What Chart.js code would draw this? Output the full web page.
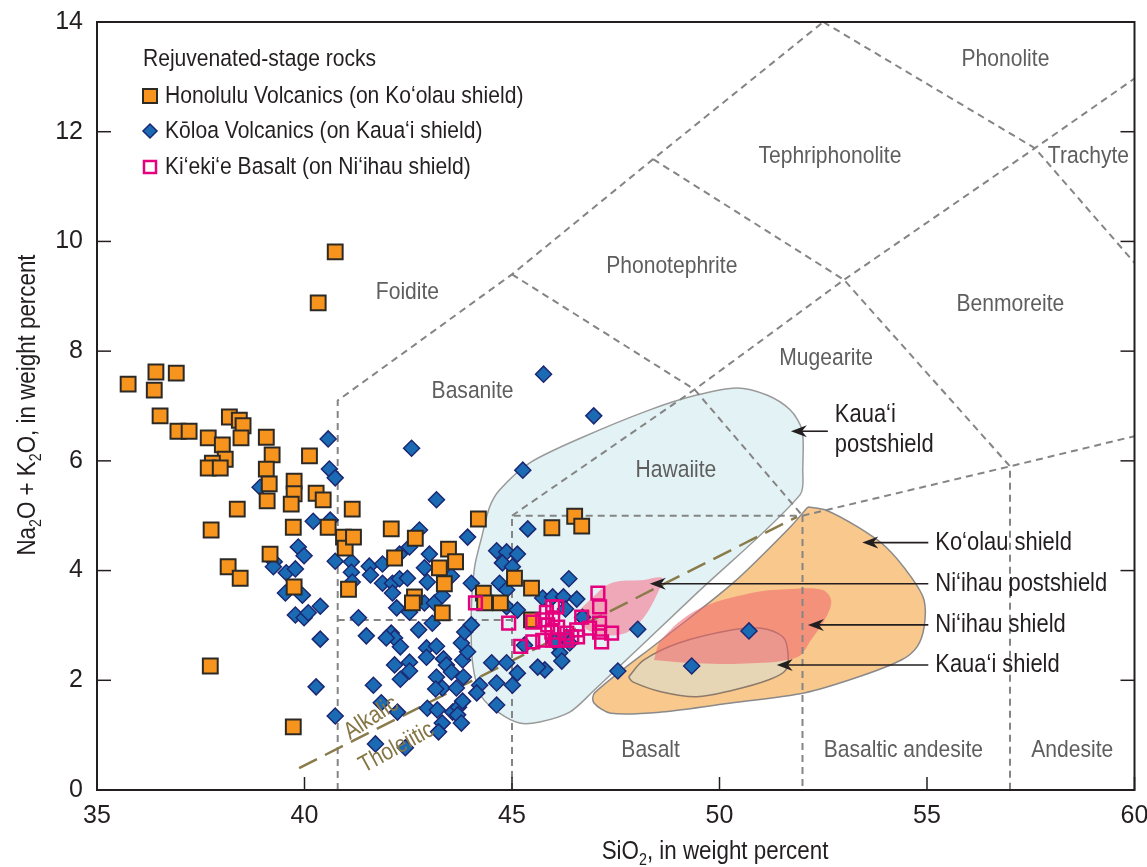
<!DOCTYPE html>
<html>
<head>
    <title>TAS diagram - rejuvenated-stage rocks</title>
    <script src="https://cdn.jsdelivr.net/npm/chart.js@4.4.0/dist/chart.umd.min.js"></script>
    <style>
        body { margin: 0; background: #fff; }
        canvas { display: block; }
    </style>
</head>
<body>
<canvas id="canvas" width="1147" height="867"></canvas>
<script>
    // Honolulu Volcanics (orange squares)
    var honoluluSiO2 = [40.74,40.33,35.75,36.42,36.91,36.38,36.52,36.95,37.22,37.68,38.02,38.19,38.43,38.52,38.47,39.08,38.09,37.78,37.68,37.97,39.22,40.12,39.08,39.15,39.75,39.75,39.68,39.10,38.38,40.28,40.45,39.73,37.75,40.57,40.94,40.98,39.17,38.16,38.45,39.75,41.06,37.73,39.73,41.15,41.18,42.09,42.67,42.17,43.47,43.64,43.25,43.37,44.19,44.31,44.34,44.72,45.06,42.65,42.60,43.32,45.96,46.51,46.68,45.47,45.47];
    var honoluluAlk  = [9.81,8.88,7.40,7.62,7.60,7.29,6.82,6.54,6.54,6.42,6.29,6.80,6.74,6.64,6.42,6.43,6.03,5.96,5.87,5.87,6.11,6.09,5.85,5.58,5.63,5.40,5.21,5.27,5.12,5.41,5.29,4.79,4.74,4.79,4.61,4.41,4.30,4.07,3.86,3.70,3.66,2.26,1.15,5.12,4.61,4.76,4.59,4.23,4.39,4.16,4.05,3.76,4.94,3.59,3.41,3.41,3.86,3.52,3.41,3.23,4.78,4.99,4.81,3.68,3.10];

    // Koloa Volcanics (blue diamonds)
    var koloaSiO2 = [40.57,40.60,40.74,38.93,40.21,40.62,39.85,39.99,40.74,39.27,39.25,39.56,39.78,39.54,39.95,40.38,39.78,39.99,40.09,40.38,40.28,40.74,
        42.58,43.18,42.77,43.93,42.53,43.01,41.13,41.56,41.88,42.29,42.89,41.13,41.59,41.88,42.12,42.29,42.48,42.96,43.54,41.15,44.02,44.63,44.87,44.77,45.01,44.70,44.87,45.13,
        42.12,41.30,41.49,42.22,42.53,42.89,43.13,43.32,43.08,42.75,42.09,42.17,41.97,42.31,42.94,43.18,42.94,42.17,42.53,42.53,42.31,43.35,43.42,43.54,43.81,43.93,43.78,43.86,44.02,
        43.83,43.18,43.32,43.66,43.16,41.66,41.85,42.24,42.96,43.20,43.57,43.71,43.81,43.69,43.78,43.32,43.23,41.71,42.43,44.22,44.15,44.51,44.63,44.63,44.87,45.01,
        45.76,46.97,45.26,45.38,46.37,45.74,45.98,46.24,46.56,46.29,46.70,44.87,45.13,48.03,47.55,46.15,46.20,45.79,45.62,45.13,46.03,46.32,46.39,45.30,50.71,49.33];
    var koloaAlk = [6.40,5.85,5.69,5.52,4.90,4.92,4.43,4.27,4.17,4.16,4.07,3.96,4.03,3.59,3.55,3.35,3.19,3.14,3.23,2.75,1.88,1.35,
        6.23,5.29,4.74,4.61,4.43,4.30,4.16,4.08,4.12,4.30,4.05,3.97,3.92,3.77,3.77,3.85,3.86,3.79,3.90,3.79,3.77,4.36,4.34,4.14,4.07,3.77,3.65,4.30,
        3.59,3.14,2.81,3.32,3.24,3.41,3.41,3.54,3.04,2.92,2.86,2.77,2.77,2.61,2.59,2.62,2.42,2.28,2.33,2.17,2.02,2.39,2.28,2.15,2.37,2.52,2.68,2.88,3.01,
        2.06,2.06,1.86,1.86,1.84,1.91,1.59,1.42,1.49,1.46,1.42,1.51,1.62,1.37,1.22,1.22,1.06,0.84,0.77,1.91,1.77,2.32,1.95,1.55,2.32,1.91,
        7.58,6.82,5.83,4.76,3.85,3.50,3.52,3.52,3.48,3.30,3.15,3.34,3.28,2.93,2.17,2.50,2.35,2.19,2.24,2.13,2.70,2.79,2.68,2.64,2.90,2.26];

    // Ki'eki'e Basalt (pink open squares)
    var kiekieSiO2 = [44.12,44.92,45.21,45.50,45.74,45.83,46.08,45.98,45.86,46.10,45.96,46.32,46.44,46.58,46.68,46.87,47.11,47.11,47.40,47.16,47.07,47.11,45.98,46.10,46.32,46.56,45.74,45.50,45.98];
    var kiekieAlk  = [3.41,3.04,2.62,2.70,2.73,3.24,3.34,3.14,3.01,2.97,2.88,2.86,2.79,2.79,3.15,2.95,3.04,2.88,2.86,2.70,3.59,3.34,2.73,2.73,2.73,2.92,3.10,3.06,3.34];

    // outlined fields (SiO2, Na2O+K2O)
    var kauaiPostX = [52.01,51.94,49.44,46.94,46.39,45.67,45.18,44.70,44.27,44.05,44.02,44.10,44.27,44.46,44.70,45.42,46.70,48.32,49.45,50.42,51.14,51.70,51.99,52.01];
    var kauaiPostY = [5.89,5.38,3.58,1.79,1.42,1.24,1.22,1.40,1.70,2.32,3.28,4.07,4.61,5.16,5.47,5.96,6.43,6.93,7.20,7.33,7.20,6.93,6.56,5.89];
    var koolauX = [52.13,52.57,53.34,54.01,54.62,54.93,54.93,54.76,54.38,53.34,52.04,50.32,48.59,47.38,46.97,46.99,48.59,50.32,51.70,52.13];
    var koolauY = [5.16,5.10,4.79,4.43,3.88,3.46,2.97,2.61,2.37,2.06,1.77,1.59,1.42,1.40,1.59,1.77,2.73,3.77,4.79,5.16];
    var niihauShieldX = [48.42,48.59,49.45,50.76,51.60,52.47,52.69,52.57,52.20,51.87,50.76,49.45,48.42];
    var niihauShieldY = [2.37,2.73,3.28,3.59,3.66,3.65,3.46,3.15,2.73,2.42,2.31,2.31,2.37];
    var kauaiShieldX = [47.81,48.18,49.02,50.32,51.00,51.53,51.65,51.60,51.19,50.32,49.45,48.59,47.91,47.81];
    var kauaiShieldY = [2.06,2.37,2.68,2.92,2.95,2.79,2.50,2.19,2.01,1.82,1.70,1.79,1.97,2.06];
    var niihauPostX = [46.51,46.87,47.38,48.18,48.63,48.51,48.18,47.74,47.21,46.75,46.51];
    var niihauPostY = [3.19,3.46,3.77,3.83,3.86,3.59,3.15,2.86,2.83,2.95,3.19];

    // TAS field boundaries (dashed)
    var tasLines = [
        [[40.8,0],[40.8,7.1],[45,9.4],[48.4,11.5],[52.5,14]],
        [[40.8,3.1],[45,3.1]],
        [[45,0],[45,5],[52,5],[52,0]],
        [[45,5],[49.4,7.3],[53,9.3],[57.6,11.7],[60,12.97]],
        [[45,9.4],[49.4,7.3],[52,5]],
        [[48.4,11.5],[53,9.3],[57,5.9],[57,0]],
        [[52,5],[57,5.9],[60,6.45]],
        [[52.5,14],[57.6,11.7],[60,9.61]]
    ];
    // alkalic / tholeiitic divide
    var divideX = [39.87, 51.87];
    var divideY = [0.40, 4.98];

    var fieldNames = ['Foidite','Basanite','Phonotephrite','Tephriphonolite','Phonolite','Trachyte','Benmoreite','Mugearite','Hawaiite','Basalt','Basaltic andesite','Andesite'];
    var fieldX = [42.48,44.05,48.85,52.66,56.89,58.89,57.01,52.57,48.95,48.34,54.43,58.50];
    var fieldY = [9.08,7.26,9.55,11.56,13.33,11.56,8.86,7.87,5.83,0.73,0.73,0.73];

    var calloutNames = ['Ko\u2018olau shield','Ni\u2018ihau postshield','Ni\u2018ihau shield','Kaua\u2018i shield'];
    var calloutY = [4.51, 3.76, 3.01, 2.28];
    var calloutTipX = [53.44, 48.32, 52.13, 51.38];

    var FONT = '"Liberation Sans", Arial, sans-serif';
    var SX = 0.86;

    function pts(xs, ys) {
        return xs.map(function (v, i) { return {x: v, y: ys[i]}; });
    }

    function text(ctx, s, x, y, size, color, align, rot) {
        ctx.save();
        ctx.translate(x, y);
        ctx.rotate(rot || 0);
        ctx.scale(SX, 1);
        ctx.font = size + 'px ' + FONT;
        ctx.fillStyle = color;
        ctx.textAlign = align || 'left';
        ctx.textBaseline = 'middle';
        ctx.fillText(s, 0, 0);
        ctx.restore();
    }

    function rich(ctx, parts, cx, cy, size, color, rot) {
        ctx.save();
        ctx.translate(cx, cy);
        ctx.rotate(rot || 0);
        ctx.scale(SX, 1);
        var w = 0;
        parts.forEach(function (p) {
            ctx.font = (p[1] ? size * 0.64 : size) + 'px ' + FONT;
            w += ctx.measureText(p[0]).width;
        });
        var xx = -w / 2;
        ctx.fillStyle = color;
        ctx.textBaseline = 'alphabetic';
        parts.forEach(function (p) {
            ctx.font = (p[1] ? size * 0.64 : size) + 'px ' + FONT;
            ctx.fillText(p[0], xx, size * 0.36 + (p[1] ? size * 0.22 : 0));
            xx += ctx.measureText(p[0]).width;
        });
        ctx.restore();
    }

    function arrow(ctx, x1, y1, x2, y2) {
        ctx.beginPath();
        ctx.moveTo(x1, y1);
        ctx.lineTo(x2 + 8, y2);
        ctx.stroke();
        ctx.beginPath();
        ctx.moveTo(x2, y2);
        ctx.lineTo(x2 + 16, y2 - 6);
        ctx.lineTo(x2 + 11, y2);
        ctx.lineTo(x2 + 16, y2 + 6);
        ctx.closePath();
        ctx.fill();
    }

    var overlay = {
        id: 'overlay',
        afterDraw: function (chart) {
            var ctx = chart.ctx, a = chart.chartArea, xs = chart.scales.x, ys = chart.scales.y;
            ctx.save();
            ctx.strokeStyle = '#231f20';
            ctx.lineWidth = 2;
            ctx.strokeRect(a.left, a.top, a.right - a.left, a.bottom - a.top);
            ctx.lineWidth = 1.5;
            xs.ticks.forEach(function (t) {
                var px = xs.getPixelForValue(t.value);
                ctx.beginPath(); ctx.moveTo(px, a.bottom); ctx.lineTo(px, a.bottom - 13); ctx.stroke();
            });
            ys.ticks.forEach(function (t) {
                var py = ys.getPixelForValue(t.value);
                ctx.beginPath(); ctx.moveTo(a.left, py); ctx.lineTo(a.left + 14, py); ctx.stroke();
                ctx.beginPath(); ctx.moveTo(a.right, py); ctx.lineTo(a.right - 14, py); ctx.stroke();
            });

            // field names
            fieldNames.forEach(function (n, i) {
                text(ctx, n, xs.getPixelForValue(fieldX[i]), ys.getPixelForValue(fieldY[i]), 24.5, '#5e5e5e', 'center');
            });

            // alkalic / tholeiitic
            text(ctx, 'Alkalic', xs.getPixelForValue(41.61), ys.getPixelForValue(1.31), 24, '#857645', 'center', -0.58);
            text(ctx, 'Tholeiitic', xs.getPixelForValue(42.22), ys.getPixelForValue(0.77), 24, '#857645', 'center', -0.5);

            // callouts
            ctx.strokeStyle = '#231f20';
            ctx.fillStyle = '#231f20';
            ctx.lineWidth = 1.6;
            var lx = xs.getPixelForValue(55.2);
            calloutNames.forEach(function (n, i) {
                var py = ys.getPixelForValue(calloutY[i]);
                arrow(ctx, lx - 7, py, xs.getPixelForValue(calloutTipX[i]), py);
                text(ctx, n, lx, py, 25.5, '#231f20', 'left');
            });
            var kx = xs.getPixelForValue(52.78);
            text(ctx, 'Kaua\u2018i', kx, ys.getPixelForValue(6.84), 25.5, '#231f20', 'left');
            text(ctx, 'postshield', kx, ys.getPixelForValue(6.29), 25.5, '#231f20', 'left');
            ctx.fillStyle = '#231f20';
            var ay = ys.getPixelForValue(6.54);
            arrow(ctx, kx - 7, ay, xs.getPixelForValue(51.72), ay);

            // legend
            text(ctx, 'Rejuvenated-stage rocks', 143, 59, 24.5, '#231f20', 'left');
            ctx.fillStyle = '#F7941D';
            ctx.strokeStyle = '#2d2a26';
            ctx.lineWidth = 2;
            ctx.fillRect(143, 89, 14, 14);
            ctx.strokeRect(143, 89, 14, 14);
            ctx.beginPath();
            ctx.moveTo(150, 124); ctx.lineTo(157, 131); ctx.lineTo(150, 138); ctx.lineTo(143, 131); ctx.closePath();
            ctx.fillStyle = '#1a6bb4'; ctx.fill();
            ctx.strokeStyle = '#1c2873'; ctx.lineWidth = 1.5; ctx.stroke();
            ctx.strokeStyle = '#E6007E'; ctx.lineWidth = 2.5;
            ctx.strokeRect(144, 161, 12, 12);
            text(ctx, 'Honolulu Volcanics (on Ko\u2018olau shield)', 165, 96, 24.5, '#231f20', 'left');
            text(ctx, 'K\u014dloa Volcanics (on Kaua\u2018i shield)', 165, 131, 24.5, '#231f20', 'left');
            text(ctx, 'Ki\u2018eki\u2018e Basalt (on Ni\u2018ihau shield)', 165, 167, 24.5, '#231f20', 'left');

            // axis titles
            rich(ctx, [['SiO'], ['2', true], [', in weight percent']], 715, 850, 26, '#231f20', 0);
            rich(ctx, [['Na'], ['2', true], ['O + K'], ['2', true], ['O, in weight percent']], 26, 405, 26, '#231f20', -Math.PI / 2);
            ctx.restore();
        }
    };

    var datasets = [
        {label: 'Ki\u2018eki\u2018e Basalt', data: pts(kiekieSiO2, kiekieAlk), order: 1,
            pointStyle: 'rect', pointRadius: 9, backgroundColor: 'rgba(255,255,255,0)', borderColor: '#E6007E', borderWidth: 2.5},
        {label: 'Honolulu Volcanics', data: pts(honoluluSiO2, honoluluAlk), order: 2,
            pointStyle: 'rect', pointRadius: 10.5, backgroundColor: '#F7941D', borderColor: '#2d2a26', borderWidth: 2},
        {label: 'K\u014dloa Volcanics', data: pts(koloaSiO2, koloaAlk), order: 3,
            pointStyle: 'rectRot', pointRadius: 8, backgroundColor: '#1a6bb4', borderColor: '#1c2873', borderWidth: 1.5},
        {label: 'divide', data: pts(divideX, divideY), order: 4, showLine: true, pointRadius: 0,
            borderColor: '#8a7b4a', borderWidth: 2.5, borderDash: [20, 9]},
        {label: 'Ni\u2018ihau postshield', data: pts(niihauPostX, niihauPostY), order: 6, showLine: true, pointRadius: 0,
            tension: 0.35, fill: 'shape', backgroundColor: '#EFA8B8', borderColor: 'rgba(0,0,0,0)', borderWidth: 0},
        {label: 'Ni\u2018ihau shield', data: pts(niihauShieldX, niihauShieldY), order: 7, showLine: true, pointRadius: 0,
            tension: 0.35, fill: 'shape', backgroundColor: 'rgba(238,100,110,0.55)', borderColor: 'rgba(0,0,0,0)', borderWidth: 0},
        {label: 'Kaua\u2018i shield', data: pts(kauaiShieldX, kauaiShieldY), order: 8, showLine: true, pointRadius: 0,
            tension: 0.35, fill: 'shape', backgroundColor: '#E6D6B6', borderColor: '#8c7b6b', borderWidth: 1.5},
        {label: 'Ko\u2018olau shield', data: pts(koolauX, koolauY), order: 9, showLine: true, pointRadius: 0,
            tension: 0.3, fill: 'shape', backgroundColor: '#F9C88D', borderColor: '#8a8a8a', borderWidth: 1.5},
        {label: 'Kaua\u2018i postshield', data: pts(kauaiPostX, kauaiPostY), order: 10, showLine: true, pointRadius: 0,
            tension: 0.3, fill: 'shape', backgroundColor: '#E3F2F4', borderColor: '#9a9a9a', borderWidth: 1.5}
    ];
    tasLines.forEach(function (seg, i) {
        datasets.push({label: 'tas' + i, data: seg.map(function (p) { return {x: p[0], y: p[1]}; }), order: 5,
            showLine: true, pointRadius: 0, borderColor: '#858585', borderWidth: 2, borderDash: [7, 5]});
    });

    var context = document.getElementById('canvas').getContext('2d');
    var chart = new Chart(context, {
        type: 'scatter',
        data: {datasets: datasets},
        options: {
            responsive: false,
            animation: false,
            events: [],
            layout: {padding: {top: 22, right: 12, left: 0, bottom: 0}},
            plugins: {legend: {display: false}, tooltip: {enabled: false}},
            scales: {
                x: {
                    type: 'linear', min: 35, max: 60,
                    ticks: {stepSize: 5, padding: 3, color: '#231f20', font: {family: FONT, size: 25}},
                    grid: {display: false}, border: {display: false},
                    afterFit: function (s) { s.height = 77; s.paddingLeft = 0; s.paddingRight = 0; }
                },
                y: {
                    type: 'linear', min: 0, max: 14,
                    ticks: {stepSize: 2, padding: 6, color: '#231f20', font: {family: FONT, size: 25}},
                    grid: {display: false}, border: {display: false},
                    afterFit: function (s) { s.width = 97; s.paddingTop = 0; s.paddingBottom = 0; }
                }
            }
        },
        plugins: [overlay]
    });
</script>
</body>
</html>
